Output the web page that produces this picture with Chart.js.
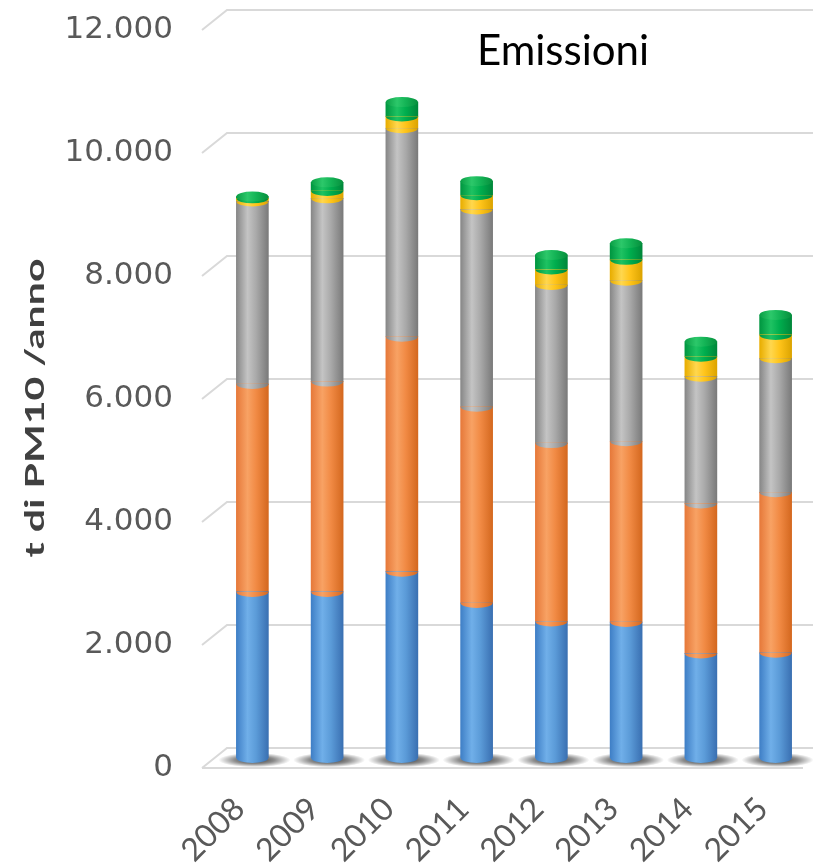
<!DOCTYPE html>
<html>
<head>
<meta charset="utf-8">
<script src="https://cdn.jsdelivr.net/npm/chart.js@4/dist/chart.umd.min.js"></script>
<style>
  html, body { margin: 0; padding: 0; background: #ffffff; }
  #wrap { width: 813px; height: 868px; }
</style>
</head>
<body>
<div id="wrap"><canvas id="c" width="813" height="868"></canvas></div>
<script>
// Annual PM10 emissions (t/anno), stacked by source
const years = ['2008', '2009', '2010', '2011', '2012', '2013', '2014', '2015'];
const seriesBlue   = [2700, 2700, 3030, 2520, 2220, 2210, 1700, 1710];
const seriesOrange = [3380, 3420, 3820, 3190, 2900, 2940, 2440, 2610];
const seriesGray   = [2970, 2980, 3390, 3210, 2570, 2610, 2060, 2180];
const seriesYellow = [50, 120, 190, 230, 255, 340, 325, 380];
const seriesGreen  = [30, 140, 235, 230, 235, 270, 245, 325];

const yTickValues = [0, 2000, 4000, 6000, 8000, 10000, 12000];
const yTickLabels = ['0', '2.000', '4.000', '6.000', '8.000', '10.000', '12.000'];

const chartTitle = 'Emissioni';
const yAxisTitle = 't di PM10 /anno';

// cylinder shading: [left edge, highlight, body, right edge]
const palette = [
  ['#3f7fc6', '#70afe9', '#5b9bd8', '#3a70b2'],
  ['#e6793a', '#f8a264', '#f18a44', '#d4681f'],
  ['#878787', '#c4c4c4', '#a9a9a9', '#7a7a7a'],
  ['#e8ad00', '#ffd74e', '#ffc41a', '#dca400'],
  ['#009640', '#1ec262', '#00ae4e', '#00873a']
];
const topCap = ['#0a9e45', '#2cc86a', '#14b456', '#078f3d'];

const BAR_W = 32;
const RY = 5;

function cylGradient(ctx, x, w, cols) {
  const g = ctx.createLinearGradient(x - w / 2, 0, x + w / 2, 0);
  g.addColorStop(0, cols[0]);
  g.addColorStop(0.35, cols[1]);
  g.addColorStop(0.62, cols[2]);
  g.addColorStop(1, cols[3]);
  return g;
}

function barFill(c) {
  const ch = c.chart;
  const cols = palette[c.datasetIndex];
  if (c.type !== 'data' || !ch.chartArea || !ch.scales.x) return cols[2];
  const x = ch.scales.x.getPixelForValue(c.dataIndex);
  return cylGradient(ch.ctx, x, BAR_W, cols);
}

// back-wall grid, floor and shadows under the bars, then the rounded
// segment edges and caps that turn the flat bars into cylinders
const cylinderLook = {
  id: 'cylinderLook',
  beforeDatasetsDraw(chart) {
    const { ctx, chartArea: a, scales: { y } } = chart;
    ctx.save();
    ctx.strokeStyle = '#d9d9d9';
    ctx.lineWidth = 2;
    yTickValues.forEach(v => {
      const yy = y.getPixelForValue(v);
      ctx.beginPath();
      ctx.moveTo(a.left - 13, yy + 10);
      ctx.lineTo(a.left + 12, yy - 10);
      ctx.lineTo(chart.width, yy - 10);
      ctx.stroke();
    });
    const y0 = y.getPixelForValue(0);
    ctx.beginPath();
    ctx.moveTo(a.left - 13, y0 + 10);
    ctx.lineTo(803, y0 + 10);
    ctx.stroke();

    const meta = chart.getDatasetMeta(0);
    meta.data.forEach(el => {
      ctx.save();
      ctx.translate(el.x + 2, y0 + 2);
      ctx.scale(1, 0.2);
      const g = ctx.createRadialGradient(0, 0, 0, 0, 0, 36);
      g.addColorStop(0, 'rgba(0,0,0,0.8)');
      g.addColorStop(0.55, 'rgba(0,0,0,0.45)');
      g.addColorStop(1, 'rgba(0,0,0,0)');
      ctx.fillStyle = g;
      ctx.beginPath();
      ctx.arc(0, 0, 36, 0, Math.PI * 2);
      ctx.fill();
      ctx.restore();
    });
    ctx.restore();
  },
  afterDatasetsDraw(chart) {
    const { ctx } = chart;
    const n = chart.data.datasets.length;
    ctx.save();
    for (let d = 0; d < n; d++) {
      const meta = chart.getDatasetMeta(d);
      meta.data.forEach(el => {
        const w = el.width;
        ctx.fillStyle = cylGradient(ctx, el.x, w, palette[d]);
        ctx.beginPath();
        ctx.ellipse(el.x, el.base, w / 2, RY, 0, 0, Math.PI);
        ctx.fill();
      });
    }
    const topMeta = chart.getDatasetMeta(n - 1);
    topMeta.data.forEach(el => {
      const w = el.width;
      ctx.fillStyle = cylGradient(ctx, el.x, w, topCap);
      ctx.beginPath();
      ctx.ellipse(el.x, el.y, w / 2, RY, 0, 0, Math.PI * 2);
      ctx.fill();
    });
    ctx.restore();
  },
  afterDraw(chart) {
    const { ctx } = chart;
    ctx.save();
    ctx.fillStyle = '#000000';
    ctx.font = '42px Lato';
    ctx.textAlign = 'center';
    ctx.textBaseline = 'alphabetic';
    ctx.fillText(chartTitle, 563, 65);

    ctx.translate(36, 408);
    ctx.rotate(-Math.PI / 2);
    ctx.scale(1.58, 1);
    ctx.font = 'bold 26px Lato';
    ctx.fillStyle = '#404040';
    ctx.textAlign = 'center';
    ctx.textBaseline = 'middle';
    ctx.fillText(yAxisTitle, 0, 0);
    ctx.restore();
  }
};

const mk = (label, data) => ({
  label, data,
  backgroundColor: barFill,
  borderWidth: 0,
  barThickness: BAR_W
});

new Chart(document.getElementById('c'), {
  type: 'bar',
  data: {
    labels: years,
    datasets: [
      mk('blu', seriesBlue),
      mk('arancio', seriesOrange),
      mk('grigio', seriesGray),
      mk('giallo', seriesYellow),
      mk('verde', seriesGreen)
    ]
  },
  options: {
    responsive: false,
    devicePixelRatio: 1,
    animation: false,
    layout: { padding: { top: 20, right: -5, left: 0, bottom: 0 } },
    plugins: {
      legend: { display: false },
      tooltip: { enabled: false },
      title: { display: false }
    },
    scales: {
      x: {
        stacked: true,
        offset: true,
        grid: { display: false },
        border: { display: false },
        ticks: {
          autoSkip: false,
          minRotation: 45,
          maxRotation: 45,
          padding: 24,
          labelOffset: -13,
          color: '#595959',
          font: { family: 'Lato', size: 32 }
        },
        afterFit: s => { s.height = 110; s.paddingLeft = 0; s.paddingRight = 0; }
      },
      y: {
        stacked: true,
        min: 0,
        max: 12000,
        grid: { display: false, drawTicks: false },
        border: { display: false },
        afterBuildTicks: s => { s.ticks = yTickValues.map(v => ({ value: v })); },
        ticks: {
          padding: 42,
          labelOffset: 10,
          color: '#595959',
          font: { family: 'DejaVu Sans', size: 31 },
          callback: v => yTickLabels[yTickValues.indexOf(v)]
        },
        afterFit: s => { s.width = 215; s.paddingTop = 0; s.paddingBottom = 0; }
      }
    }
  },
  plugins: [cylinderLook]
});
</script>
</body>
</html>
